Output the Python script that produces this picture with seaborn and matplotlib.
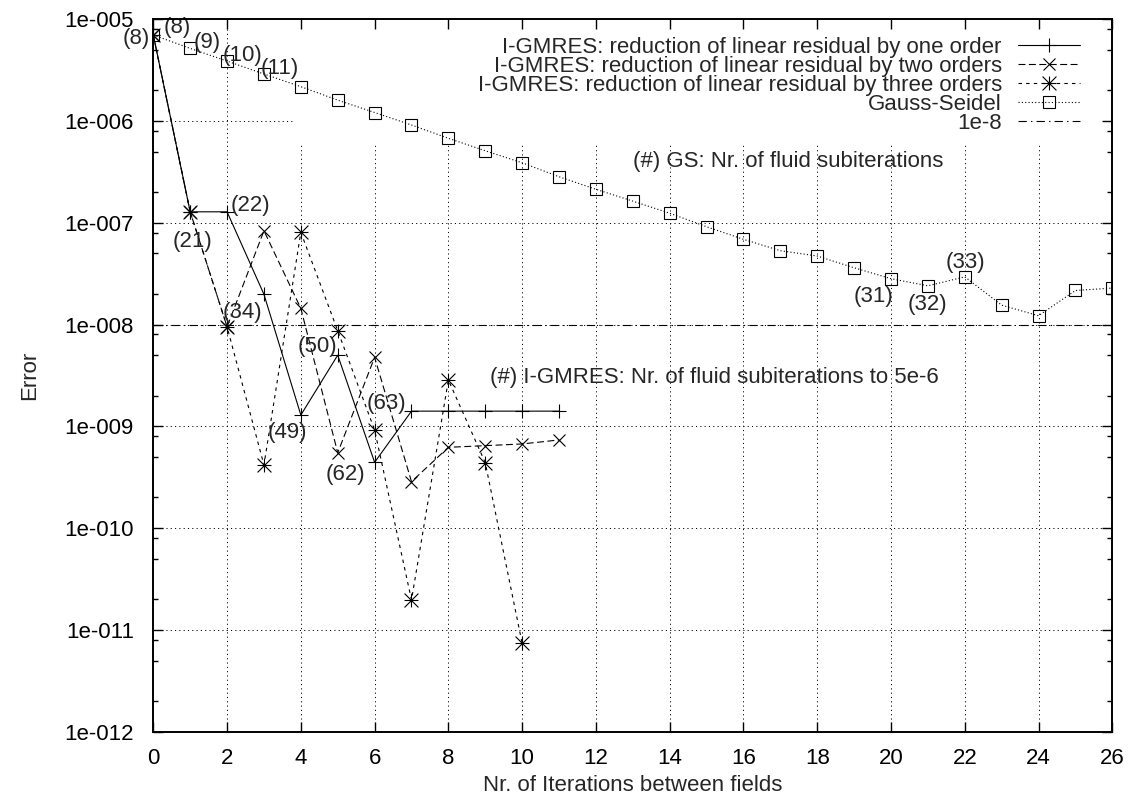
import matplotlib
matplotlib.use("Agg")
import matplotlib.pyplot as plt
from matplotlib.path import Path
from matplotlib.patches import Rectangle
from matplotlib.ticker import FixedLocator, FixedFormatter, NullFormatter
import seaborn as sns

# ---- data -------------------------------------------------------------
iters_gs = list(range(27))
err_gs = [6.98e-6, 5.16e-6, 3.87e-6, 2.89e-6, 2.17e-6, 1.6e-6, 1.21e-6, 9.12e-7,
          6.75e-7, 5.09e-7, 3.88e-7, 2.83e-7, 2.13e-7, 1.63e-7, 1.24e-7, 9.13e-8,
          6.87e-8, 5.31e-8, 4.71e-8, 3.61e-8, 2.82e-8, 2.40e-8, 2.94e-8, 1.55e-8,
          1.22e-8, 2.16e-8, 2.28e-8]

iters_one = list(range(12))
err_one = [6.98e-6, 1.28e-7, 1.28e-7, 1.98e-8, 1.29e-9, 5.0e-9, 4.43e-10, 1.41e-9,
           1.41e-9, 1.41e-9, 1.41e-9, 1.41e-9]

iters_two = list(range(12))
err_two = [6.98e-6, 1.28e-7, 9.5e-9, 8.34e-8, 1.44e-8, 5.5e-10, 4.76e-9, 2.86e-10,
           6.22e-10, 6.46e-10, 6.71e-10, 7.35e-10]

iters_three = list(range(11))
err_three = [6.98e-6, 1.28e-7, 9.5e-9, 4.17e-10, 8.05e-8, 8.7e-9, 9.2e-10, 1.97e-11,
             2.85e-9, 4.39e-10, 7.38e-12]

threshold = 1e-8

series_labels = [
    "I-GMRES: reduction of linear residual by one order",
    "I-GMRES: reduction of linear residual by two orders",
    "I-GMRES: reduction of linear residual by three orders",
    "Gauss-Seidel",
    "1e-8",
]

# subiteration counts written next to the points: (text, x, y, alignment)
count_notes = [
    ("(8)", -0.1, 6.4e-6, "right"),
    ("(8)", 0.27, 8.36e-6, "left"),
    ("(9)", 1.08, 5.96e-6, "left"),
    ("(10)", 1.87, 4.44e-6, "left"),
    ("(11)", 2.90, 3.24e-6, "left"),
    ("(22)", 2.11, 1.49e-7, "left"),
    ("(21)", 0.53, 6.6e-8, "left"),
    ("(34)", 1.87, 1.31e-8, "left"),
    ("(50)", 3.92, 6.05e-9, "left"),
    ("(49)", 3.11, 8.6e-10, "left"),
    ("(63)", 5.77, 1.66e-9, "left"),
    ("(62)", 4.66, 3.33e-10, "left"),
    ("(31)", 19.0, 1.87e-8, "left"),
    ("(32)", 20.44, 1.56e-8, "left"),
    ("(33)", 21.49, 4.05e-8, "left"),
]
gs_note = ("(#) GS: Nr. of fluid subiterations", 13.0, 3.97e-7)
gmres_note = ("(#) I-GMRES: Nr. of fluid subiterations to 5e-6", 9.13, 3.05e-9)

x_ticks = list(range(0, 27, 2))
y_ticks = [1e-12, 1e-11, 1e-10, 1e-9, 1e-8, 1e-7, 1e-6, 1e-5]
y_tick_labels = ["1e-012", "1e-011", "1e-010", "1e-009", "1e-008", "1e-007",
                 "1e-006", "1e-005"]
y_minor = [m * 10.0 ** e for e in range(-12, -5) for m in (2, 5, 8)]

# ---- style ------------------------------------------------------------
sns.set_theme(style="white")
plt.rcParams["font.family"] = ["Liberation Sans", "DejaVu Sans"]
plt.rcParams["lines.scale_dashes"] = False
FS = 16

fig = plt.figure(figsize=(11.28, 7.97), dpi=100)
ax = fig.add_axes([0.1359, 0.0819, 0.8502, 0.8941])
ax.set_yscale("log")
ax.set_xlim(0, 26)
ax.set_ylim(1e-12, 1e-5)
ax.set_axisbelow(True)

# asterisk marker: plus and cross overlaid
star = Path([(0, -1), (0, 1), (-1, 0), (1, 0), (-1, -1), (1, 1), (-1, 1), (1, -1)],
            [Path.MOVETO, Path.LINETO] * 4)

lw = 0.8
common = dict(color="black", lw=lw, estimator=None, sort=False, errorbar=None,
              markeredgecolor="black", markeredgewidth=0.8, ax=ax)
sns.lineplot(x=iters_one, y=err_one, marker="+", markersize=10,
             linestyle="-", label=series_labels[0], **common)
sns.lineplot(x=iters_two, y=err_two, marker="x", markersize=8,
             linestyle=(0, (5, 2.5)), label=series_labels[1], **common)
sns.lineplot(x=iters_three, y=err_three, marker=star, markersize=10,
             linestyle=(0, (2.5, 3)), label=series_labels[2], **common)
sns.lineplot(x=iters_gs, y=err_gs, marker="s", markersize=8, markerfacecolor="none",
             linestyle=(0, (0.8, 1.6)), label=series_labels[3], **common)
ax.axhline(threshold, color="black", lw=lw, linestyle=(0, (6, 3, 1, 3)),
           label=series_labels[4])

# grid, blanked behind the key area
ax.grid(True, which="major", color="black", lw=0.7, linestyle=(0, (0.8, 2.3)))
ax.add_patch(Rectangle((0.1457, 0.8257), 0.8543, 0.1743, transform=ax.transAxes,
                       facecolor="white", edgecolor="none", zorder=0.8))

ax.xaxis.set_major_locator(FixedLocator(x_ticks))
ax.yaxis.set_major_locator(FixedLocator(y_ticks))
ax.yaxis.set_major_formatter(FixedFormatter(y_tick_labels))
ax.yaxis.set_minor_locator(FixedLocator(y_minor))
ax.yaxis.set_minor_formatter(NullFormatter())
ax.tick_params(which="both", length=0, labelsize=FS, colors="black")
ax.tick_params(axis="y", pad=14)
ax.tick_params(axis="x", pad=12)
for s in ax.spines.values():
    s.set_visible(False)

ax.set_xlabel("Nr. of Iterations between fields", fontsize=FS)
ax.set_ylabel("Error", fontsize=FS)
ax.xaxis.set_label_coords(0.5, -0.061)
ax.yaxis.set_label_coords(-0.118, 0.5)

for txt, x, y, ha in count_notes:
    ax.text(x, y, txt, ha=ha, va="center", fontsize=FS, zorder=6)
ax.text(gs_note[1], gs_note[2], gs_note[0], ha="left", va="center", fontsize=FS)
ax.text(gmres_note[1], gmres_note[2], gmres_note[0], ha="left", va="center", fontsize=FS)

leg = ax.legend(loc="upper right", bbox_to_anchor=(0.9663, 0.9755), frameon=False,
                markerfirst=False, fontsize=FS, handlelength=2.8, handletextpad=0.72,
                labelspacing=-0.09, borderpad=0, borderaxespad=0)

# frame and inward ticks drawn above everything
ov = fig.add_axes(ax.get_position(), sharex=ax, sharey=ax)
ov.patch.set_visible(False)
ov.grid(False)
ov.tick_params(which="both", direction="in", top=True, right=True, bottom=True,
               left=True, labelbottom=False, labelleft=False, colors="black")
ov.tick_params(which="major", length=7.2, width=1.0)
ov.tick_params(which="minor", length=3.6, width=1.0)
for s in ov.spines.values():
    s.set_visible(True)
    s.set_linewidth(1.4)
    s.set_color("black")
ov.set_zorder(3)

fig.savefig("out.png", dpi=100, facecolor="white")
